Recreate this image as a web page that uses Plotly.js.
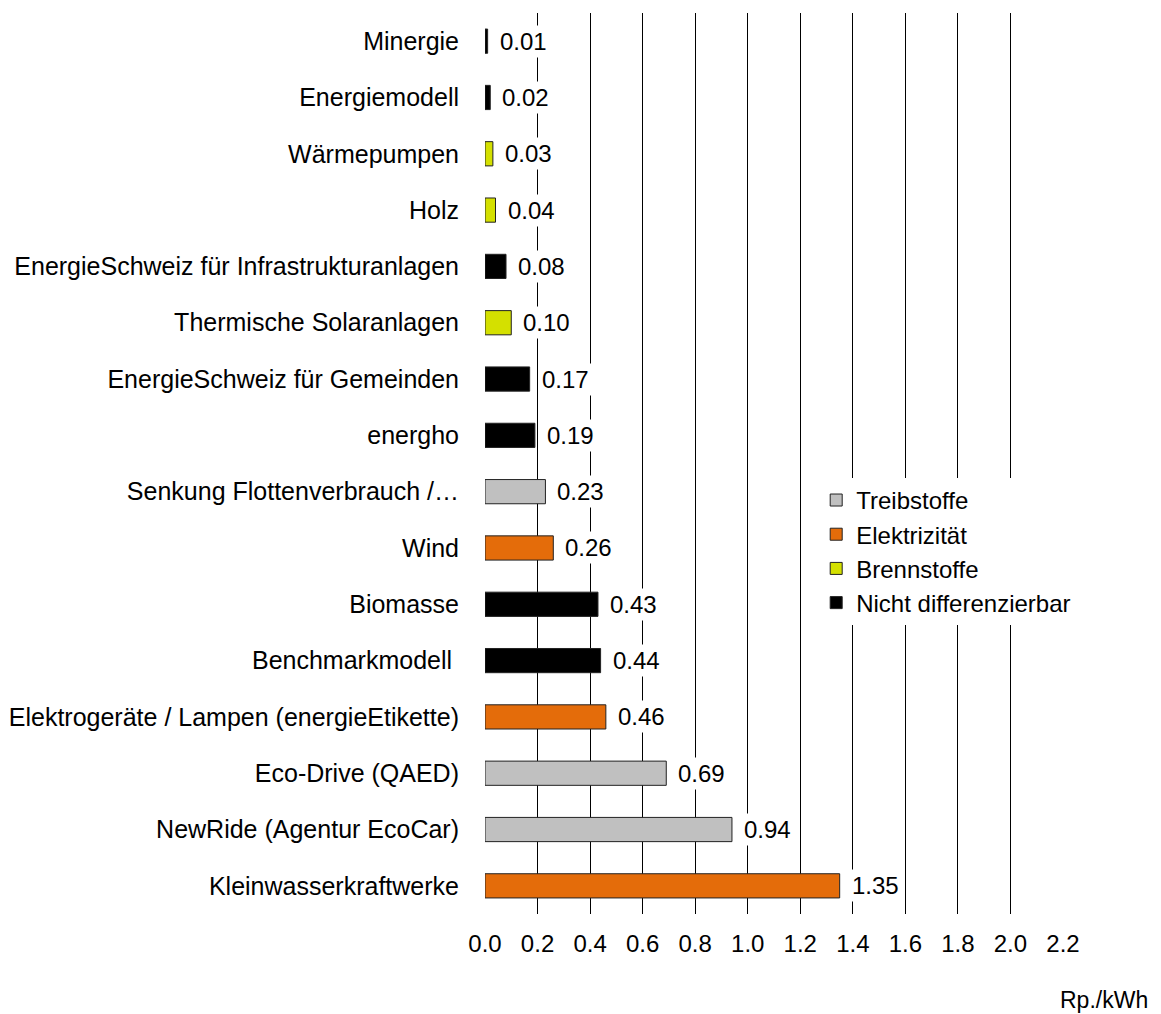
<!DOCTYPE html>
<html><head><meta charset="utf-8">
<script src="https://cdn.plot.ly/plotly-3.0.1.min.js"></script>
<style>html,body{margin:0;padding:0;background:#fff}</style>
</head><body>
<div id="chart" style="width:1161px;height:1014px"></div>
<script>
const categories = ["Minergie","Energiemodell","Wärmepumpen","Holz","EnergieSchweiz für Infrastrukturanlagen","Thermische Solaranlagen","EnergieSchweiz für Gemeinden","energho","Senkung Flottenverbrauch /…","Wind","Biomasse","Benchmarkmodell ","Elektrogeräte / Lampen (energieEtikette)","Eco-Drive (QAED)","NewRide (Agentur EcoCar)","Kleinwasserkraftwerke"];
const values = [0.01,0.02,0.03,0.04,0.08,0.10,0.17,0.19,0.23,0.26,0.43,0.44,0.46,0.69,0.94,1.35];
const groups = ["Nicht differenzierbar","Nicht differenzierbar","Brennstoffe","Brennstoffe","Nicht differenzierbar","Brennstoffe","Nicht differenzierbar","Nicht differenzierbar","Treibstoffe","Elektrizität","Nicht differenzierbar","Nicht differenzierbar","Elektrizität","Treibstoffe","Treibstoffe","Elektrizität"];
const groupNames = ["Treibstoffe","Elektrizität","Brennstoffe","Nicht differenzierbar"];
const groupColors = ["#c0c0c0","#e46c0a","#d4e000","#000000"];
const tickVals = [0,0.2,0.4,0.6,0.8,1.0,1.2,1.4,1.6,1.8,2.0,2.2];
const tickText = ["0.0","0.2","0.4","0.6","0.8","1.0","1.2","1.4","1.6","1.8","2.0","2.2"];

const FONT = "Liberation Sans, Arial, sans-serif";
const traces = groupNames.map((g,gi)=>{
  const ys=[], xs=[];
  categories.forEach((c,i)=>{ if(groups[i]===g){ ys.push(c); xs.push(values[i]); } });
  return {type:'bar', orientation:'h', name:g, x:xs, y:ys, width:0.43,
    marker:{color:groupColors[gi], line:{color:'#222', width:1}}, hoverinfo:'x+y'};
});

const annotations = categories.map((c,i)=>({
  x: values[i], y: c, xref:'x', yref:'y', text: values[i].toFixed(2),
  showarrow:false, xanchor:'left', yanchor:'middle', xshift:9,
  bgcolor:'#ffffff', borderpad:2, font:{family:FONT, size:24, color:'#000'}
}));
annotations.push({x:1, y:0, xref:'paper', yref:'paper', xanchor:'right', yanchor:'middle',
  xshift:87, yshift:-86, text:'Rp./kWh', showarrow:false, font:{family:FONT, size:23, color:'#000'}});

const layout = {
  width:1161, height:1014,
  margin:{l:485, r:98, t:13, b:100},
  paper_bgcolor:'#fff', plot_bgcolor:'#fff',
  font:{family:FONT, size:24, color:'#000'},
  barmode:'overlay',
  showlegend:true,
  legend:{x:0.573, y:0.484, xanchor:'left', yanchor:'top', bgcolor:'#ffffff',
    font:{family:FONT, size:24, color:'#000'}, traceorder:'normal', tracegroupgap:0,
    itemwidth:30},
  xaxis:{range:[0,2.2], tickvals:tickVals, ticktext:tickText, showgrid:true, gridcolor:'#000', gridwidth:1,
    zeroline:false, showline:false, ticks:'outside', ticklen:8, tickcolor:'rgba(0,0,0,0)',
    tickfont:{family:FONT, size:24}},
  yaxis:{type:'category', categoryorder:'array', categoryarray:categories, autorange:'reversed',
    showgrid:false, zeroline:false, showline:false, ticks:'outside', ticklen:20, tickcolor:'rgba(0,0,0,0)',
    tickfont:{family:FONT, size:25}},
  annotations: annotations
};
Plotly.newPlot('chart', traces, layout, {displayModeBar:false, staticPlot:true});
</script>
</body></html>
